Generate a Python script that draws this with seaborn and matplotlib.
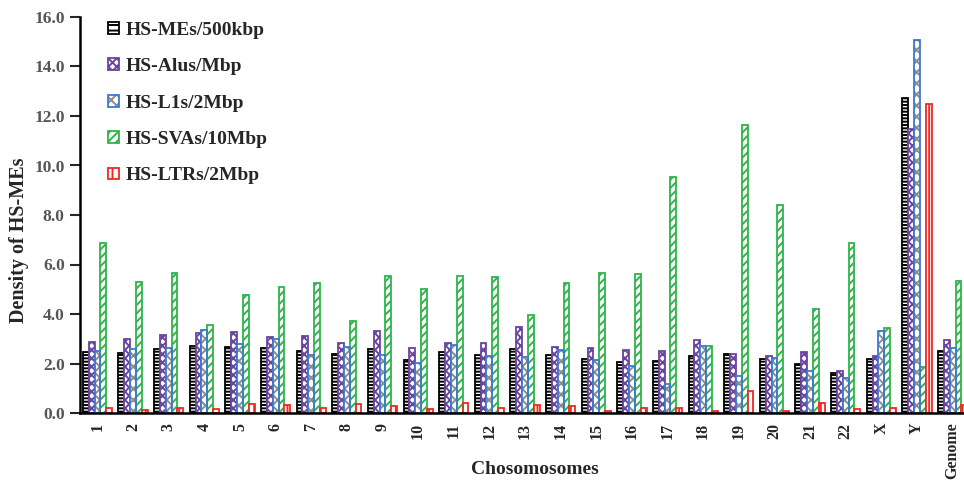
import pandas as pd
import numpy as np
import matplotlib
matplotlib.use('Agg')
import matplotlib.pyplot as plt
from matplotlib.patches import Patch, Rectangle
import seaborn as sns

# Chart values
chromosomes = ['1', '2', '3', '4', '5', '6', '7', '8', '9', '10', '11', '12', '13',
               '14', '15', '16', '17', '18', '19', '20', '21', '22', 'X', 'Y', 'Genome']
series_names = ['HS-MEs/500kbp', 'HS-Alus/Mbp', 'HS-L1s/2Mbp', 'HS-SVAs/10Mbp', 'HS-LTRs/2Mbp']

mes = [2.48, 2.44, 2.59, 2.69, 2.65, 2.64, 2.49, 2.37, 2.60, 2.13, 2.45, 2.33, 2.59,
       2.33, 2.19, 2.08, 2.10, 2.32, 2.37, 2.18, 2.00, 1.62, 2.18, 12.73, 2.49]
alus = [2.86, 2.99, 3.15, 3.25, 3.28, 3.09, 3.13, 2.84, 3.31, 2.61, 2.83, 2.84, 3.47,
        2.65, 2.64, 2.55, 2.52, 2.94, 2.37, 2.32, 2.48, 1.71, 2.29, 11.47, 2.96]
l1s = [2.52, 2.58, 2.63, 3.37, 2.80, 3.00, 2.33, 2.68, 2.35, 2.01, 2.73, 2.29, 2.28,
       2.55, 2.15, 1.88, 1.18, 2.72, 1.50, 2.21, 1.71, 1.43, 3.30, 15.07, 2.63]
svas = [6.87, 5.31, 5.67, 3.55, 4.77, 5.08, 5.24, 3.70, 5.55, 5.00, 5.55, 5.51, 3.95,
        5.27, 5.64, 5.60, 9.54, 2.69, 11.64, 8.42, 4.22, 6.87, 3.43, 1.86, 5.32]
ltrs = [0.21, 0.13, 0.20, 0.17, 0.35, 0.31, 0.21, 0.35, 0.28, 0.15, 0.40, 0.21, 0.33,
        0.27, 0.10, 0.20, 0.20, 0.10, 0.90, 0.07, 0.40, 0.15, 0.19, 12.48, 0.31]

# Long format for seaborn
df = pd.DataFrame({'Chromosome': chromosomes * 5,
                   'Series': np.repeat(series_names, len(chromosomes)),
                   'Density': mes + alus + l1s + svas + ltrs})

sns.set_style('white')
plt.rcParams['font.family'] = ['Liberation Serif', 'DejaVu Serif']
plt.rcParams['font.weight'] = 'bold'
plt.rcParams['hatch.linewidth'] = 1.4

fig = plt.figure(figsize=(9.64, 4.84), dpi=100)
ax = fig.add_axes([80 / 964, 71 / 484, 884 / 964, 396 / 484])

sns.barplot(data=df, x='Chromosome', y='Density', hue='Series', order=chromosomes,
            hue_order=series_names, width=0.82, errorbar=None, legend=False,
            saturation=1, ax=ax)

# per-series styling: (face, edge, hatch, hatch colour or None)
styles = [
    ('white', 'black', '-----', None),
    ('white', '#6a45a0', 'xxxx', None),
    ('white', '#3a7ad0', 'xxx', '#8c8c8c'),
    ('white', '#2fb44c', '////', None),
    ('white', '#ee2a22', '||', None),
]

for cont, (fc, ec, hatch, hc) in zip(ax.containers, styles):
    for bar in cont:
        if hc is None:
            bar.set_facecolor(fc)
            bar.set_edgecolor(ec)
            bar.set_hatch(hatch)
            bar.set_linewidth(1.3)
        else:
            # hatch in one colour, outline in another
            bar.set_facecolor(fc)
            bar.set_edgecolor(hc)
            bar.set_hatch(hatch)
            bar.set_linewidth(0)
            ax.add_patch(Rectangle(bar.get_xy(), bar.get_width(), bar.get_height(),
                                   facecolor='none', edgecolor=ec, linewidth=1.3,
                                   zorder=bar.get_zorder() + 0.1))

ax.set_ylim(0, 16)
ax.set_xlim(-0.49, 24.32)
ax.set_yticks(np.arange(0, 16.1, 2))
ax.set_yticklabels([f'{v:.1f}' for v in np.arange(0, 16.1, 2)], fontsize=12.5,
                   fontweight='bold', color='#555555')
ax.set_xticks(range(len(chromosomes)))
ax.set_xticklabels(chromosomes, rotation=90, fontsize=11.5, fontweight='bold')
ax.tick_params(axis='y', direction='out', length=7, width=1.5, left=True, pad=4)
ax.tick_params(axis='x', length=0, pad=7)

for side in ['top', 'right']:
    ax.spines[side].set_visible(False)
for side in ['left', 'bottom']:
    ax.spines[side].set_linewidth(1.8)
    ax.spines[side].set_color('black')

ax.set_xlabel('Chosomosomes', fontsize=14, fontweight='bold')
ax.set_ylabel('Density of HS-MEs', fontsize=14.5, fontweight='bold')
ax.xaxis.set_label_coords(0.515, -0.12)
ax.yaxis.set_label_coords(-0.058, 0.437)

# legend built by hand so the hatches match the bars
handles = []
for fc, ec, hatch, hc in styles:
    if hc is None:
        handles.append(Patch(facecolor=fc, edgecolor=ec, hatch=hatch.replace('-----', '---'), linewidth=1.3))
    else:
        handles.append((Patch(facecolor=fc, edgecolor=hc, hatch=hatch, linewidth=0),
                        Patch(facecolor='none', edgecolor=ec, linewidth=1.3)))
ax.legend(handles, series_names, loc='upper left', bbox_to_anchor=(0.027, 0.998),
          frameon=False, handlelength=0.6, handleheight=0.55,
          handletextpad=0.3, labelspacing=1.0, borderpad=0.2, borderaxespad=0,
          prop={'weight': 'bold', 'size': 14})

fig.savefig('out.png', dpi=100)
